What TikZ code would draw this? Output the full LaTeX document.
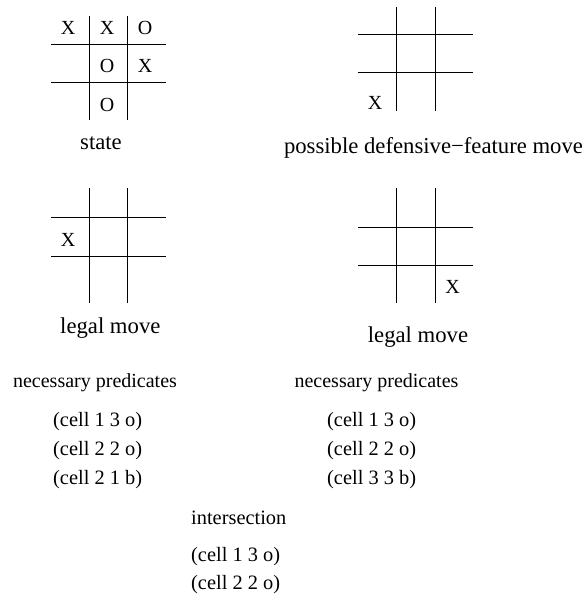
\documentclass[tikz,border=0pt]{standalone}
\usepackage{fontspec}
\setmainfont{Liberation Serif}
\begin{document}
\begin{tikzpicture}[x=1pt,y=-1pt,
  gridline/.style={line width=0.9pt},
  txt/.style={inner sep=0pt,font=\fontsize{20}{24}\selectfont},
  captxt/.style={inner sep=0pt,anchor=base,font=\fontsize{22.7}{27}\selectfont},
  lbl/.style={txt,anchor=base},
  lft/.style={inner sep=0pt,anchor=base west,font=\fontsize{20.4}{24}\selectfont}]
\useasboundingbox (0,0) rectangle (587,599);
% grid 1: state
\draw[gridline] (89.3,16) -- (89.3,120) (127.7,16) -- (127.7,120)
  (51,44.3) -- (166,44.3) (51,82.7) -- (166,82.7);
\node[txt] (a11) at (68,28) {X};
\node[txt] (a12) at (107,28) {X};
\node[txt] (a13) at (145,28) {O};
\node[txt] (a22) at (107,66) {O};
\node[txt] (a23) at (145,66) {X};
\node[txt] (a32) at (107,105) {O};
\node[captxt] (s) at (101,149.3) {state};
% grid 2: defensive
\draw[gridline] (396,7) -- (396,111) (435,7) -- (435,111)
  (357.7,34.3) -- (473,34.3) (357.7,72.7) -- (473,72.7);
\node[txt] (b31) at (375,103) {X};
\node[captxt] (d) at (433.5,153.3) {possible defensive−feature move};
% grid 3: legal left
\draw[gridline] (89.3,188) -- (89.3,303) (127.7,188) -- (127.7,303)
  (51,217.7) -- (166,217.7) (51,256) -- (166,256);
\node[txt] (c21) at (68,240) {X};
\node[captxt] (l1) at (110.3,333) {legal move};
% grid 4: legal right
\draw[gridline] (396,188) -- (396,303) (435,188) -- (435,303)
  (358,227.3) -- (473,227.3) (358,265.7) -- (473,265.7);
\node[txt] (e33) at (452.7,287) {X};
\node[captxt] (l2) at (418,342.7) {legal move};
% predicates
\node[lbl] (p1) at (95,387.6) {necessary predicates};
\node[lbl] (p2) at (376.5,387.6) {necessary predicates};
\node[lft] (p1a) at (53,426.3) {(cell 1 3 o)};
\node[lft] (p1b) at (53,455.3) {(cell 2 2 o)};
\node[lft] (p1c) at (53,484) {(cell 2 1 b)};
\node[lft] (p2a) at (327,426.3) {(cell 1 3 o)};
\node[lft] (p2b) at (327,455.3) {(cell 2 2 o)};
\node[lft] (p2c) at (327,484) {(cell 3 3 b)};
\node[lft] (i) at (191,524.8) {intersection};
\node[lft] (ia) at (191,561.3) {(cell 1 3 o)};
\node[lft] (ib) at (191,589.6) {(cell 2 2 o)};
\end{tikzpicture}
\end{document}
